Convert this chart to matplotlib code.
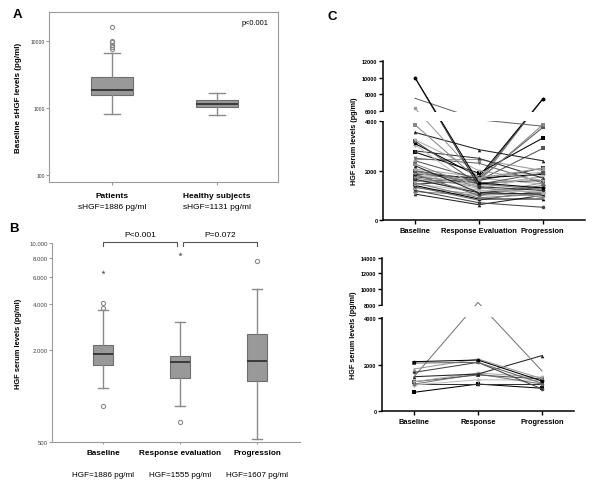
import numpy as np
import matplotlib
matplotlib.use("Agg")
import matplotlib.pyplot as plt
from matplotlib.transforms import blended_transform_factory

plt.rcParams['font.family'] = ['Liberation Sans', 'DejaVu Sans']

# ---------------- Panel A data ----------------
a_groups = ["Patients", "Healthy subjects"]
a_notes = ["sHGF=1886 pg/ml", "sHGF=1131 pg/ml"]
a_q1 = [1580, 1020]
a_med = [1886, 1150]
a_q3 = [2900, 1330]
a_whislo = [820, 795]
a_whishi = [6600, 1650]
a_fliers = [[7500, 8000, 8700, 9500, 10000, 16000], []]
a_yticks = [100, 1000, 10000]
a_ptext = "p<0.001"

# ---------------- Panel B data ----------------
b_groups = ["Baseline", "Response evaluation", "Progression"]
b_notes = ["HGF=1886 pg/ml", "HGF=1555 pg/ml", "HGF=1607 pg/ml"]
b_q1 = [1603, 1306, 1247]
b_med = [1884, 1663, 1702]
b_q3 = [2158, 1837, 2547]
b_whislo = [1128, 863, 525]
b_whishi = [3660, 3040, 5050]
b_circles = [[859, 3770, 4050], [679], [7660]]
b_stars = [[6520], [8510], []]
b_yticks = [500, 2000, 4000, 6000, 8000, 10000]
b_yticklabels = ["500", "2.000", "4.000", "6.000", "8.000", "10.000"]
b_ptexts = ["P<0.001", "P=0.072"]

# ---------------- Panel C (top) data ----------------
c1_labels = ["Baseline", "Response Evaluation", "Progression"]
c1_base = [10000, 10000, 7540, 6350, 3860, 3550, 3250, 3200, 3100, 3050, 2800, 2750,
           2500, 2450, 2400, 2270, 2200, 2060, 2000, 1980, 1950, 1900, 1870, 1850,
           1800, 1750, 1700, 1650, 1600, 1560, 1500, 1460, 1450, 1400, 1350, 1300,
           1200, 1150, 1050, 1800]
c1_resp = [1500, 1350, 4300, 1700, 1600, 2850, 2000, 1450, 1750, 1200, 2500, 1900,
           2300, 2450, 1650, 1300, 1100, 1750, 1600, 1450, 1250, 1550, 1700, 1000,
           1400, 1500, 1350, 1100, 1200, 1650, 900, 1150, 1600, 850, 800, 1050,
           700, 1000, 620, 1700]
c1_prog = [1300, 1200, 3800, 2100, 3860, 2400, 1600, 1900, 7460, 1150, 1700, 3320,
           1500, 2000, 7460, 1100, 1050, 1930, 2900, 1250, 1800, 7460, 1850, 1400,
           1750, 1600, 900, 1320, 1150, 3750, 1050, 960, 2100, 850, 1200, 1500,
           515, 1100, 1000, 1460]
c1_yticks = [0, 2000, 4000, 6000, 8000, 10000, 12000]

# ---------------- Panel C (bottom) data ----------------
c2_labels = ["Baseline", "Response", "Progression"]
c2_base = [2130, 2070, 1815, 1670, 1485, 1485, 1270, 1270, 1170, 1130, 1170, 815]
c2_resp = [2200, 2100, 2245, 2100, 8340, 1600, 1645, 1560, 1600, 1355, 1170, 1170]
c2_prog = [1300, 1200, 1400, 960, 1730, 2390, 1460, 1390, 1170, 1330, 1170, 990]
c2_yticks = [0, 2000, 4000, 8000, 10000, 12000, 14000]

W, H = 600, 485
fig = plt.figure(figsize=(W / 100, H / 100), dpi=100)


def px_axes(x0, y0, x1, y1):
    return fig.add_axes([x0 / W, (H - y1) / H, (x1 - x0) / W, (y1 - y0) / H])


box_style = dict(
    boxprops=dict(facecolor='#999999', edgecolor='#6e6e6e', linewidth=0.8),
    medianprops=dict(color='#333333', linewidth=1.3),
    whiskerprops=dict(color='#8a8a8a', linewidth=1.0),
    capprops=dict(color='#8a8a8a', linewidth=1.0),
    flierprops=dict(marker='o', markerfacecolor='none', markeredgecolor='#8a8a8a',
                    markersize=3, markeredgewidth=0.8, linestyle='none'),
)

# ================= Panel A =================
axA = px_axes(49, 13, 278, 183)
posA = [1, 2]
statsA = [dict(q1=q1, med=m, q3=q3, whislo=lo, whishi=hi, fliers=f)
          for q1, m, q3, lo, hi, f in zip(a_q1, a_med, a_q3, a_whislo, a_whishi, a_fliers)]
axA.bxp(statsA, positions=posA, widths=0.4, patch_artist=True,
        capwidths=0.16, **box_style)
axA.set_yscale('log')
axA.set_ylim(78.6, 27100)
axA.set_xlim(0.4, 2.58)
axA.set_yticks(a_yticks)
axA.set_yticklabels([str(v) for v in a_yticks])
axA.yaxis.set_minor_locator(matplotlib.ticker.NullLocator())
axA.set_xticks(posA)
axA.set_xticklabels(a_groups, fontsize=6, fontweight='bold')
for s in axA.spines.values():
    s.set_color('#9a9a9a')
    s.set_linewidth(0.8)
axA.tick_params(axis='y', labelsize=3.6, length=2, color='#9a9a9a', pad=1, labelcolor='#333333')
axA.tick_params(axis='x', length=2.5, color='#9a9a9a', pad=5)
axA.set_ylabel("Baseline sHGF levels (pg/ml)", fontsize=5.8, fontweight='bold', labelpad=6)
tA = blended_transform_factory(axA.transData, axA.transAxes)
for p, note in zip(posA, a_notes):
    axA.text(p, -0.147, note, transform=tA, ha='center', va='center', fontsize=6.0)
axA.text(0.96, 0.94, a_ptext, transform=axA.transAxes, ha='right', va='center', fontsize=5.3)
fig.text(13 / W, 1 - 15 / H, "A", fontsize=9.5, fontweight='bold', va='center', ha='left')

# ================= Panel B =================
axB = px_axes(52, 244.3, 300, 442.8)
posB = [1, 2, 3]
statsB = [dict(q1=q1, med=m, q3=q3, whislo=lo, whishi=hi, fliers=c)
          for q1, m, q3, lo, hi, c in zip(b_q1, b_med, b_q3, b_whislo, b_whishi, b_circles)]
axB.bxp(statsB, positions=posB, widths=0.26, patch_artist=True,
        capwidths=0.13, **box_style)
for p, st in zip(posB, b_stars):
    if st:
        axB.plot([p] * len(st), st, linestyle='none', marker='*', markersize=3.2,
                 color='#555555', markeredgewidth=0)
axB.set_yscale('log')
axB.set_ylim(500, 10000)
axB.set_xlim(0.338, 3.56)
axB.set_yticks(b_yticks)
axB.set_yticklabels(b_yticklabels)
axB.yaxis.set_minor_locator(matplotlib.ticker.NullLocator())
axB.set_xticks(posB)
axB.set_xticklabels(b_groups, fontsize=5.9, fontweight='bold')
axB.spines['top'].set_visible(False)
axB.spines['right'].set_visible(False)
for s in ['left', 'bottom']:
    axB.spines[s].set_color('#9a9a9a')
    axB.spines[s].set_linewidth(0.8)
axB.tick_params(axis='y', labelsize=4.3, length=2, color='#9a9a9a', pad=1, labelcolor='#444444')
axB.tick_params(axis='x', length=1.5, color='#9a9a9a', pad=4)
axB.set_ylabel("HGF serum levels (pg/ml)", fontsize=5.4, fontweight='bold', labelpad=5)
tB = blended_transform_factory(axB.transData, axB.transAxes)
for p, note in zip(posB, b_notes):
    axB.text(p, -0.164, note, transform=tB, ha='center', va='center', fontsize=5.9)
# significance brackets
pairs = [(posB[0], posB[1] - 0.04), (posB[1] + 0.04, posB[2])]
for (xa, xb), txt in zip(pairs, b_ptexts):
    axB.plot([xa, xa, xb, xb], [0.985, 1.008, 1.008, 0.985], transform=tB,
             color='#555555', linewidth=0.8, clip_on=False)
    axB.text((xa + xb) / 2, 1.042, txt, transform=tB, ha='center', va='center', fontsize=6)
fig.text(9 / W, 1 - 229 / H, "B", fontsize=9.5, fontweight='bold', va='center', ha='left')


# ================= Panel C =================
def broken(b0, b1, gap_units, ratio):
    def fwd(v):
        v = np.asarray(v, dtype=float)
        return np.where(v <= b0, v,
                        np.where(v <= b1, b0 + (v - b0) / (b1 - b0) * gap_units,
                                 b0 + gap_units + (v - b1) * ratio))

    def inv(u):
        u = np.asarray(u, dtype=float)
        return np.where(u <= b0, u,
                        np.where(u <= b0 + gap_units, b0 + (u - b0) / gap_units * (b1 - b0),
                                 b1 + (u - b0 - gap_units) / ratio))
    return fwd, inv


markers = ['o', 's', '^', 'o', 's', '^', 'v', 's', 'o', 'D', '^', 's', 'v', 'o']
colors = ['#000000', '#666666', '#999999', '#444444', '#888888', '#222222', '#aaaaaa',
          '#555555', '#777777', '#bbbbbb', '#333333']


def draw_c(ax, base, resp, prog, labels, yticks, ylim, b0, b1, gap_units, ratio, xright,
           special):
    fwd, inv = broken(b0, b1, gap_units, ratio)
    ax.set_yscale('function', functions=(fwd, inv))
    xs = [1, 2, 3]
    n = len(base)
    order = list(range(n - 1, -1, -1))
    for i in order:
        b, r, p = base[i], resp[i], prog[i]
        col, mk = special.get(i, (colors[i % len(colors)], markers[i % len(markers)]))
        ax.plot(xs, [b, r, p], color=col, linewidth=0.75, marker=mk,
                markersize=2.6, markeredgewidth=0, zorder=2)
    ax.set_ylim(*ylim)
    ax.set_xlim(0.5, xright)
    ax.set_yticks(yticks)
    ax.set_yticklabels([str(v) for v in yticks])
    ax.yaxis.set_minor_locator(matplotlib.ticker.NullLocator())
    ax.set_xticks(xs)
    ax.set_xticklabels(labels, fontsize=5.4, fontweight='bold')
    ax.spines['top'].set_visible(False)
    ax.spines['right'].set_visible(False)
    for s in ['left', 'bottom']:
        ax.spines[s].set_linewidth(1.1)
        ax.spines[s].set_color('black')
    ax.tick_params(axis='y', labelsize=4.0, length=3, width=1.0, pad=1)
    for t in ax.get_yticklabels():
        t.set_fontweight('bold')
    ax.tick_params(axis='x', length=3, width=1.0, pad=2)
    ax.set_ylabel("HGF serum levels (pg/ml)", fontsize=5.2, fontweight='bold', labelpad=3)
    # gap of the broken axis (covers the lines and the spine only)
    span = ax.axhspan(b0 + (b1 - b0) * 0.05, b1 - (b1 - b0) * 0.05, xmin=-0.012, xmax=1.0,
                      facecolor='white', edgecolor='none', zorder=6)
    span.set_clip_on(False)


axC1 = px_axes(383, 61.7, 585, 221)
draw_c(axC1, c1_base, c1_resp, c1_prog, c1_labels, c1_yticks, (0, 12000),
       4000, 6000, 405, 0.3413, 3.66,
       {0: ('#000000', 'o'), 1: ('#333333', 'o'), 2: ('#666666', ''), 3: ('#999999', 'o'),
        8: ('#000000', 'o'), 14: ('#555555', 'o'), 21: ('#777777', 'o')})
axC2 = px_axes(382, 258.7, 574, 412.3)
draw_c(axC2, c2_base, c2_resp, c2_prog, c2_labels, c2_yticks, (0, 14000),
       4000, 8000, 558, 0.339, 3.5,
       {4: ('#777777', '')})
fig.text(327 / W, 1 - 17 / H, "C", fontsize=9.5, fontweight='bold', va='center', ha='left')

fig.savefig("out.png", dpi=100)
